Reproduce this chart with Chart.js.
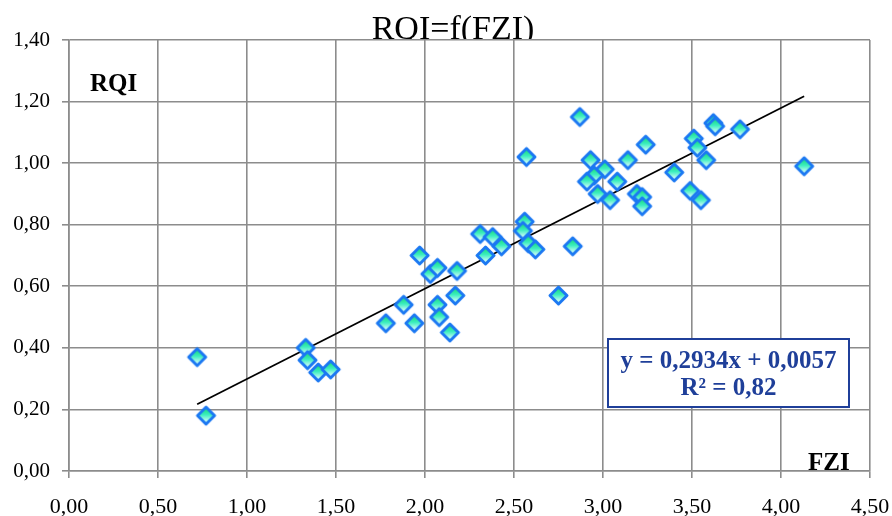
<!DOCTYPE html>
<html>
<head>
<meta charset="utf-8">
<script src="https://cdn.jsdelivr.net/npm/chart.js@4/dist/chart.umd.min.js"></script>
<style>
    html, body { margin: 0; padding: 0; background: #fff; }
    #wrap { width: 892px; height: 516px; }
</style>
</head>
<body>
<div id="wrap"><canvas id="chart"></canvas></div>
<script>
// FZI (x) and RQI (y)
const fziValues = [0.72, 0.77, 1.33, 1.34, 1.40, 1.47, 1.78, 1.88, 1.94, 1.97,
    2.03, 2.07, 2.07, 2.08, 2.14, 2.17, 2.18, 2.31, 2.34, 2.38,
    2.43, 2.56, 2.55, 2.58, 2.62, 2.57, 2.75, 2.83, 2.87, 2.93,
    3.01, 2.95, 2.91, 3.08, 2.97, 3.04, 3.14, 3.24, 3.40, 3.19,
    3.22, 3.22, 3.51, 3.53, 3.58, 3.62, 3.63, 3.77, 3.49, 3.55, 4.13];
const rqiValues = [0.37, 0.18, 0.40, 0.36, 0.32, 0.33, 0.48, 0.54, 0.48, 0.70,
    0.64, 0.66, 0.54, 0.50, 0.45, 0.57, 0.65, 0.77, 0.70, 0.76,
    0.73, 0.81, 0.78, 0.74, 0.72, 1.02, 0.57, 0.73, 1.15, 1.01,
    0.98, 0.96, 0.94, 0.94, 0.90, 0.88, 1.01, 1.06, 0.97, 0.90,
    0.89, 0.86, 1.08, 1.05, 1.01, 1.13, 1.12, 1.11, 0.91, 0.88, 0.99];

// trend line as printed on the chart
const slope = 0.2934;
const intercept = 0.0057;
const r2Text = 'R² = 0,82';
const trendRange = [0.72, 4.13];

const xTicks = [0, 0.5, 1, 1.5, 2, 2.5, 3, 3.5, 4, 4.5];
const yTicks = [0, 0.2, 0.4, 0.6, 0.8, 1.0, 1.2, 1.4];

const fmt = v => v.toFixed(2).replace('.', ',');
const serif = "'Liberation Serif', 'Times New Roman', serif";
const gridGray = '#8c8c8c';
const eqBlue = '#1f3f99';

// diamond marker with green -> white gradient
function makeDiamond() {
    const s = 23;
    const c = document.createElement('canvas');
    c.width = s; c.height = s;
    const g = c.getContext('2d');
    const h = s / 2;
    const r = 8.5;
    const grad = g.createLinearGradient(0, h - r, 0, h + r);
    grad.addColorStop(0, '#12d66a');
    grad.addColorStop(0.45, '#3ceec0');
    grad.addColorStop(0.8, '#bffcf0');
    grad.addColorStop(1, '#ffffff');
    g.beginPath();
    g.moveTo(h, h - r);
    g.lineTo(h + r, h);
    g.lineTo(h, h + r);
    g.lineTo(h - r, h);
    g.closePath();
    g.fillStyle = grad;
    g.fill();
    g.lineWidth = 3;
    g.lineJoin = 'round';
    g.strokeStyle = '#1b78f2';
    g.stroke();
    return c;
}

const points = fziValues.map((x, i) => ({ x: x, y: rqiValues[i] }));
const trendPoints = trendRange.map(x => ({ x: x, y: slope * x + intercept }));

const decorPlugin = {
    id: 'decor',
    beforeDraw(chart) {
        const ctx = chart.ctx;
        const a = chart.chartArea;
        ctx.save();
        ctx.fillStyle = '#000';
        ctx.font = '34px ' + serif;
        ctx.textAlign = 'center';
        ctx.textBaseline = 'alphabetic';
        ctx.fillText('RQI=f(FZI)', 453, 39);
        // plot area covers bottom of title
        ctx.fillStyle = '#fff';
        ctx.fillRect(a.left, a.top, a.right - a.left, a.bottom - a.top);
        ctx.restore();
    },
    afterDraw(chart) {
        const ctx = chart.ctx;
        ctx.save();
        ctx.fillStyle = '#000';
        ctx.font = 'bold 25px ' + serif;
        ctx.textAlign = 'left';
        ctx.textBaseline = 'alphabetic';
        ctx.fillText('RQI', 90, 91);
        ctx.fillText('FZI', 808, 470);

        // equation box
        const bx = 608, by = 339, bw = 241, bh = 68;
        ctx.fillStyle = '#fff';
        ctx.fillRect(bx, by, bw, bh);
        ctx.lineWidth = 2;
        ctx.strokeStyle = eqBlue;
        ctx.strokeRect(bx, by, bw, bh);
        ctx.fillStyle = eqBlue;
        ctx.textAlign = 'center';
        ctx.textBaseline = 'middle';
        const eq = 'y = ' + slope.toFixed(4).replace('.', ',') + 'x + ' + intercept.toFixed(4).replace('.', ',');
        ctx.fillText(eq, bx + bw / 2, 362);
        ctx.fillText(r2Text, bx + bw / 2, 389);
        ctx.restore();
    }
};

const ctx = document.getElementById('chart').getContext('2d');
new Chart(ctx, {
    type: 'scatter',
    plugins: [decorPlugin],
    data: {
        datasets: [{
            label: 'RQI',
            data: points,
            pointStyle: makeDiamond(),
            pointRadius: 10,
            order: 1
        }, {
            type: 'line',
            label: 'trend',
            data: trendPoints,
            borderColor: '#000',
            borderWidth: 1.8,
            pointRadius: 0,
            fill: false,
            order: 2
        }]
    },
    options: {
        responsive: true,
        maintainAspectRatio: false,
        animation: false,
        layout: { autoPadding: false, padding: { top: 40, right: 22, left: 0, bottom: 0 } },
        plugins: {
            legend: { display: false },
            tooltip: { enabled: false }
        },
        scales: {
            x: {
                type: 'linear',
                min: 0,
                max: 4.5,
                afterBuildTicks: s => { s.ticks = xTicks.map(v => ({ value: v })); },
                afterFit: s => { s.height = 45; s.paddingLeft = 0; s.paddingRight = 0; },
                ticks: {
                    color: '#000',
                    padding: 16,
                    maxRotation: 0,
                    font: { family: serif, size: 22 },
                    callback: v => fmt(v)
                },
                grid: { color: gridGray, lineWidth: 1.6, tickLength: 7, tickColor: gridGray },
                border: { color: gridGray, width: 1.6 }
            },
            y: {
                type: 'linear',
                min: 0,
                max: 1.4,
                afterBuildTicks: s => { s.ticks = yTicks.map(v => ({ value: v })); },
                afterFit: s => { s.width = 69; s.paddingTop = 0; s.paddingBottom = 0; },
                ticks: {
                    color: '#000',
                    padding: 12,
                    font: { family: serif, size: 21 },
                    callback: v => fmt(v)
                },
                grid: { color: gridGray, lineWidth: 1.6, tickLength: 7, tickColor: gridGray },
                border: { color: gridGray, width: 1.6 }
            }
        }
    }
});
</script>
</body>
</html>
